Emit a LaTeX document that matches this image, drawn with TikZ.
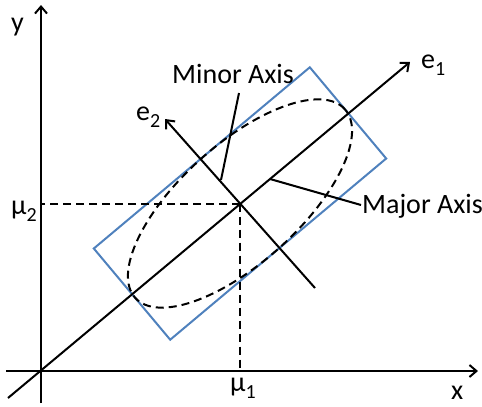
\documentclass[tikz,border=0pt]{standalone}
\usepackage{fontspec}
\setmainfont{Carlito}
\usetikzlibrary{arrows.meta}
\definecolor{boxblue}{RGB}{79,129,189}
\newcommand{\mysub}[1]{\raisebox{-0.26em}{\fontsize{20}{20}\selectfont #1}}
\begin{document}
\begin{tikzpicture}[x=1pt,y=-1pt,
  axisarrow/.style={line width=2pt, -{Straight Barb[length=7pt,width=12pt]}},
  plainline/.style={line width=2pt},
  guide/.style={line width=2pt, dash pattern=on 8pt off 5pt},
  bluebox/.style={line width=2pt, draw=boxblue, line join=miter},
  lbl/.style={inner sep=0pt, font=\fontsize{28}{28}\selectfont}]
\useasboundingbox (0,0) rectangle (482,407);
% coordinates
\coordinate (O) at (41,371);
\coordinate (xs) at (6,371);
\coordinate (xe) at (478,371);
\coordinate (ys) at (41,403);
\coordinate (ye) at (41,5);
\coordinate (mu) at (240,203.5);
\coordinate (e1s) at (8,398);
\coordinate (e1e) at (410,62);
\coordinate (e2s) at (315,288);
\coordinate (e2e) at (165,119);
\coordinate (r1) at (309.8,67.3);
\coordinate (r2) at (386.2,158.5);
\coordinate (r3) at (170.2,339.7);
\coordinate (r4) at (93.8,248.5);
\coordinate (minA) at (239,93);
\coordinate (minB) at (221,180);
\coordinate (majA) at (270,179);
\coordinate (majB) at (361,205);
% rectangle
\draw[bluebox] (r1) -- (r2) -- (r3) -- (r4) -- cycle;
% ellipse
\draw[guide, rotate around={42:(mu)}] (mu) ellipse [x radius=141pt, y radius=59.3pt];
% guides
\draw[guide] (mu) -- (mu -| O);
\draw[guide] (mu) -- (mu |- O);
% axes
\draw[axisarrow] (xs) -- (xe);
\draw[axisarrow] (ys) -- (ye);
\draw[axisarrow] (e1s) -- (e1e);
\draw[axisarrow] (e2s) -- (e2e);
% leaders
\draw[plainline] (minA) -- (minB);
\draw[plainline] (majA) -- (majB);
% labels
\node[lbl, anchor=base west] (ylab) at (11,31) {y};
\node[lbl, anchor=base west] (xlab) at (451,399) {x};
\node[lbl, anchor=base west] (e1lab) at (421,68) {e\mysub{1}};
\node[lbl, anchor=base west] (e2lab) at (136,120) {e\mysub{2}};
\node[lbl, anchor=base west] (mu2lab) at (11,214) {μ\mysub{2}};
\node[lbl, anchor=base west] (mu1lab) at (230,391) {μ\mysub{1}};
\node[lbl, anchor=base west] (minlab) at (172,83) {Minor Axis};
\node[lbl, anchor=base west] (majlab) at (362,213) {Major Axis};
\end{tikzpicture}
\end{document}
